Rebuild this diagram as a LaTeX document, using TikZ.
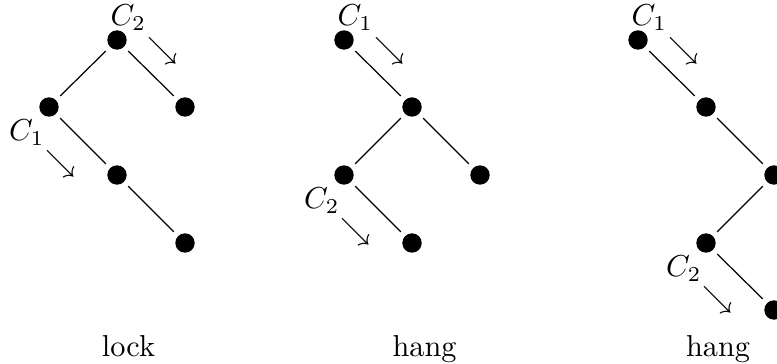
\documentclass[tikz,border=0pt]{standalone}
\begin{document}
\begin{tikzpicture}[x=0.33pt,y=-0.33pt,
  dot/.style={circle,fill=black,minimum size=6.4pt,inner sep=0pt,outer sep=2pt},
  lbl/.style={inner sep=0pt,anchor=base west},
  mv/.style={inner sep=0pt,anchor=center},
  treename/.style={inner sep=0pt,anchor=base},
  link/.style={line width=0.4pt}]
\useasboundingbox (0,0) rectangle (777,364);

% lock
\node[dot] (a1) at (117,40) {};
\node[dot] (b1) at (49,107) {};
\node[dot] (c1) at (185,107) {};
\node[dot] (d1) at (117,175) {};
\node[dot] (e1) at (185,243) {};
\draw[link] (a1) -- (b1);
\draw[link] (a1) -- (c1);
\draw[link] (b1) -- (d1);
\draw[link] (d1) -- (e1);
\node[lbl] (l1a) at (110,25.5) {$C_2$};
\node[mv]  (m1a) at (163,50.5) {$\searrow$};
\node[lbl] (l1b) at (8.5,140.5) {$C_1$};
\node[mv]  (m1b) at (60.5,163.5) {$\searrow$};
\node[treename] (t1) at (128.5,356.5) {lock};

% first hang
\node[dot] (a2) at (344,40) {};
\node[dot] (b2) at (412,107) {};
\node[dot] (c2) at (344,175) {};
\node[dot] (d2) at (480,175) {};
\node[dot] (e2) at (412,243) {};
\draw[link] (a2) -- (b2);
\draw[link] (b2) -- (c2);
\draw[link] (b2) -- (d2);
\draw[link] (c2) -- (e2);
\node[lbl] (l2a) at (337,25.5) {$C_1$};
\node[mv]  (m2a) at (390,50.5) {$\searrow$};
\node[lbl] (l2b) at (303.5,208.5) {$C_2$};
\node[mv]  (m2b) at (355.5,231.5) {$\searrow$};
\node[treename] (t2) at (424.5,356.5) {hang};

% second hang
\node[dot] (a3) at (638,40) {};
\node[dot] (b3) at (706,107) {};
\node[dot] (c3) at (774,175) {};
\node[dot] (d3) at (706,243) {};
\node[dot] (e3) at (774,310) {};
\draw[link] (a3) -- (b3);
\draw[link] (b3) -- (c3);
\draw[link] (c3) -- (d3);
\draw[link] (d3) -- (e3);
\node[lbl] (l3a) at (631,25.5) {$C_1$};
\node[mv]  (m3a) at (684,50.5) {$\searrow$};
\node[lbl] (l3b) at (665.5,276.5) {$C_2$};
\node[mv]  (m3b) at (717.5,299.5) {$\searrow$};
\node[treename] (t3) at (718,356.5) {hang};
\end{tikzpicture}
\end{document}
